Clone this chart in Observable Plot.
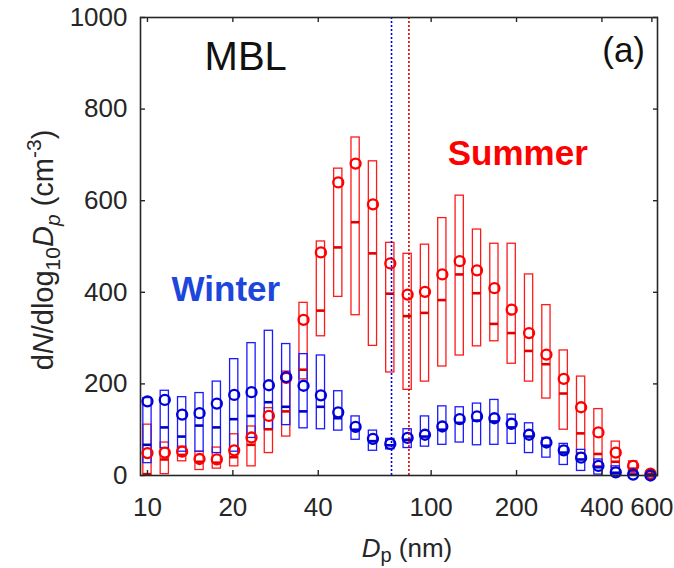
<!DOCTYPE html>
<html><head><meta charset="utf-8">
<script src="https://cdn.jsdelivr.net/npm/d3@7"></script>
<script src="https://cdn.jsdelivr.net/npm/@observablehq/plot@0.6"></script>
<style>
body{margin:0;background:#fff}
svg{font-family:"Liberation Sans",Arial,Helvetica,sans-serif}
</style>
</head><body><div id="chart"></div>
<script>
// particle diameter bins (nm)
const diameters = [10, 11.51, 13.25, 15.26, 17.56, 20.22, 23.27, 26.79, 30.84, 35.5,
  40.87, 47.05, 54.16, 62.35, 71.78, 82.63, 95.12, 109.5, 126.1, 145.1,
  167.1, 192.3, 221.4, 254.9, 293.4, 337.8, 388.8, 447.6, 515.3, 593.2];

// Summer (red)
const summerMean   = [49, 50, 52, 36, 35, 55, 83, 130, 213, 340, 487, 640, 681, 592, 463, 395, 401, 439, 468, 448, 409, 362, 311, 264, 211, 149, 94, 50, 21, 4];
const summerMedian = [3, 35, 45, 30, 28, 40, 67, 101, 140, 231, 360, 498, 553, 485, 397, 348, 355, 383, 439, 398, 331, 311, 272, 243, 179, 92, 47, 30, 15, 3];
const summerLow    = [0, 3, 31, 12, 15, 20, 20, 49, 85, 210, 304, 390, 350, 283, 225, 187, 205, 238, 262, 282, 293, 244, 205, 168, 100, 49, 20, 16, 5, 0];
const summerHigh   = [111, 72, 63, 52, 61, 90, 107, 147, 227, 377, 511, 670, 738, 686, 508, 484, 504, 562, 611, 537, 506, 506, 439, 372, 273, 216, 145, 74, 31, 8];

// Winter (blue)
const winterMean   = [162, 165, 133, 136, 157, 176, 182, 197, 215, 196, 175, 138, 106, 80, 69, 82, 89, 107, 123, 129, 125, 113, 89, 72, 55, 39, 21, 7, 2, 0];
const winterMedian = [67, 105, 85, 109, 105, 123, 130, 160, 150, 140, 150, 125, 100, 75, 66, 78, 85, 100, 115, 120, 118, 105, 85, 65, 50, 35, 18, 6, 2, 0];
const winterLow    = [27, 60, 52, 52, 49, 52, 82, 100, 110, 103, 101, 98, 78, 54, 57, 60, 63, 67, 72, 66, 67, 69, 49, 39, 23, 10, 2, 2, 0, 0];
const winterHigh   = [169, 185, 171, 180, 205, 254, 289, 316, 287, 265, 262, 184, 129, 98, 80, 101, 129, 151, 149, 157, 165, 133, 114, 82, 69, 56, 35, 20, 8, 4];

// modal diameters (dotted lines)
const winterMode = [72.5];
const summerMode = [83.5];

const xTicks = [10, 20, 40, 100, 200, 400, 600];
const yTicks = [0, 200, 400, 600, 800, 1000];

const build = (mean, median, low, high) => diameters.map((D, i) => ({D, mean: mean[i], median: median[i], low: low[i], high: high[i]}));
const summer = build(summerMean, summerMedian, summerLow, summerHigh);
const winter = build(winterMean, winterMedian, winterLow, winterHigh);

const k = 1.034; // half box width as a ratio in log space
const RED = "#ff1a1a", BLUE = "#1a1aff";
const W = 674, H = 568, mT = 17, mB = 93;
const innerH = H - mT - mB;
const AX = "#262626";

const plot = Plot.plot({
  width: W, height: H,
  marginLeft: 140, marginRight: 17, marginTop: mT, marginBottom: mB,
  style: {fontFamily: '"Liberation Sans",Arial,sans-serif', fontSize: "26px", color: AX, background: "white", overflow: "visible"},
  x: {type: "log", domain: [9.45, 628], axis: null},
  y: {domain: [0, 1000], axis: null},
  marks: [
    Plot.rect(summer, {x1: d => d.D / k, x2: d => d.D * k, y1: "low", y2: "high", fill: "none", stroke: RED, strokeWidth: 1.3}),
    Plot.rect(winter, {x1: d => d.D / k, x2: d => d.D * k, y1: "low", y2: "high", fill: "none", stroke: BLUE, strokeWidth: 1.3}),
    Plot.ruleY(summer, {y: "median", x1: d => d.D / k, x2: d => d.D * k, stroke: "#e00000", strokeWidth: 2.6}),
    Plot.dot(summer, {x: "D", y: "mean", r: 5, stroke: "#ff0000", strokeWidth: 2.3, fill: "none"}),
    Plot.ruleY(winter, {y: "median", x1: d => d.D / k, x2: d => d.D * k, stroke: "#0000c8", strokeWidth: 2.6}),
    Plot.dot(winter, {x: "D", y: "mean", r: 5, stroke: "#0000d8", strokeWidth: 2.3, fill: "none"}),
    Plot.ruleX(winterMode, {x: d => d, stroke: "#0000ee", strokeWidth: 1.6, strokeDasharray: "2,2"}),
    Plot.ruleX(summerMode, {x: d => d, stroke: "#e00000", strokeWidth: 1.6, strokeDasharray: "2,2"}),
    Plot.frame({stroke: AX, strokeWidth: 1.6}),
    // x ticks (inward, bottom and top) and labels
    Plot.tickX(xTicks, {x: d => d, insetTop: innerH - 5, stroke: AX, strokeWidth: 1.4}),
    Plot.tickX(xTicks, {x: d => d, insetBottom: innerH - 5, stroke: AX, strokeWidth: 1.4}),
    Plot.text(xTicks, {x: d => d, text: d => String(d), frameAnchor: "bottom", lineAnchor: "top", dy: 22, fontSize: 26, fill: AX}),
    // y ticks (inward, left and right) and labels
    Plot.axisY(yTicks, {anchor: "left", tickSize: 5, dx: 5, tickPadding: 13, tickFormat: d => String(d), label: null, stroke: AX, strokeWidth: 1.4}),
    Plot.axisY(yTicks, {anchor: "right", tickSize: 5, dx: -5, tickFormat: () => "", label: null, stroke: AX, strokeWidth: 1.4}),
    Plot.text(["MBL"], {x: 22.2, y: 914, text: d => d, fontSize: 40, fill: "#111", lineAnchor: "middle"}),
    Plot.text(["(a)"], {x: 477, y: 927, text: d => d, fontSize: 35, fill: "#111", lineAnchor: "middle"}),
    Plot.text(["Winter"], {x: 18.9, y: 406, text: d => d, fontSize: 35, fontWeight: "bold", fill: "#1c46dc", lineAnchor: "middle"}),
    Plot.text(["Summer"], {x: 202, y: 702, text: d => d, fontSize: 35, fontWeight: "bold", fill: "#ff0000", lineAnchor: "middle"})
  ]
});

document.getElementById("chart").appendChild(plot);

const svg = d3.select(plot);
// x-axis label: D_p (nm)
const xl = svg.append("text").attr("x", 407).attr("y", 557).attr("text-anchor", "middle")
  .attr("font-size", 26).attr("fill", AX);
xl.append("tspan").attr("font-style", "italic").text("D");
xl.append("tspan").attr("font-size", 20).attr("dy", 5).text("p");
xl.append("tspan").attr("dy", -5).text(" (nm)");

// y-axis label: dN/dlog10Dp (cm-3)
const yl = svg.append("text").attr("transform", "translate(53,250) rotate(-90)").attr("text-anchor", "middle")
  .attr("font-size", 29).attr("fill", AX);
yl.append("tspan").text("d");
yl.append("tspan").attr("font-style", "italic").text("N");
yl.append("tspan").text("/dlog");
yl.append("tspan").attr("font-size", 21).attr("dy", 7).text("10");
yl.append("tspan").attr("font-style", "italic").attr("dy", -7).text("D");
yl.append("tspan").attr("font-style", "italic").attr("font-size", 21).attr("dy", 7).text("p");
yl.append("tspan").attr("dy", -7).text(" (cm");
yl.append("tspan").attr("font-size", 21).attr("dy", -12).text("-3");
yl.append("tspan").attr("dy", 12).text(")");
</script>
</body></html>
